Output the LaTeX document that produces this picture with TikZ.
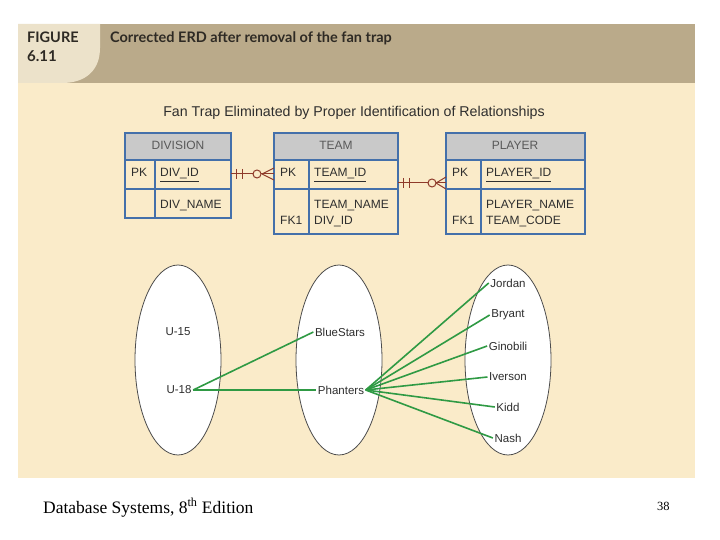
\documentclass[tikz,border=0pt]{standalone}
\usepackage{fontspec}
\setmainfont{Liberation Serif}
\setsansfont{Liberation Sans}
\newfontfamily\figfont{Lato}
\usetikzlibrary{shapes.geometric}

\definecolor{bandtan}{HTML}{BAAA8A}
\definecolor{cornerlight}{HTML}{ECE2CA}
\definecolor{panelcream}{HTML}{FAEBC9}
\definecolor{figink}{HTML}{2E2A24}
\definecolor{tabblue}{HTML}{4470AA}
\definecolor{headgray}{HTML}{C9C9C9}
\definecolor{tabink}{HTML}{2E2E2E}
\definecolor{relred}{HTML}{8E3A2A}
\definecolor{mapgreen}{HTML}{2F9A44}

\tikzset{
  tabline/.style={draw=tabblue, line width=1.4pt},
  relline/.style={draw=relred, line width=1pt},
  setoval/.style={ellipse, draw=black!70, fill=white, line width=0.8pt,
                  minimum width=86, minimum height=190},
  mapline/.style={draw=mapgreen, line width=1.6pt},
}

\begin{document}
\begin{tikzpicture}[x=1pt,y=-1pt]
    \useasboundingbox (0,0) rectangle (720,540);
    \fill[white] (0,0) rectangle (720,540);
    % slide panel and figure band
    \fill[panelcream] (18,83) rectangle (695,478);
    \fill[bandtan] (18,24) rectangle (695,83);
    \fill[cornerlight] (18,24) -- (100,24) -- (100,48)
        .. controls (100,70) and (86,83) .. (62,83) -- (18,83) -- cycle;
    \begin{scope}[every node/.style={anchor=base west, text=figink, inner sep=0pt}]
        \node[font=\figfont\bfseries\fontsize{14.5}{16}\selectfont] (fignum) at (27,43) {FIGURE};
        \node[font=\figfont\bfseries\fontsize{15}{16}\selectfont] (fignum2) at (27,62) {6.11};
        \node[font=\figfont\bfseries\fontsize{14.5}{16}\selectfont] (figtitle) at (110,43) {Corrected ERD after removal of the fan trap};
    \end{scope}
    \node[font=\sffamily\fontsize{14.2}{16}\selectfont, text=tabink] (subtitle) at (354,113) {Fan Trap Eliminated by Proper Identification of Relationships};

    % DIVISION table
    \fill[headgray] (125,133) rectangle (231,160);
    \draw[tabline] (125,160) -- (231,160) (125,189) -- (231,189) (155,160) -- (155,218);
    \draw[tabline] (125,133) rectangle (231,218);
    % TEAM table
    \fill[headgray] (274,133) rectangle (398,160);
    \draw[tabline] (274,160) -- (398,160) (274,189) -- (398,189) (309,160) -- (309,234);
    \draw[tabline] (274,133) rectangle (398,234);
    % PLAYER table
    \fill[headgray] (446,133) rectangle (585,160);
    \draw[tabline] (446,160) -- (585,160) (446,189) -- (585,189) (481,160) -- (481,234);
    \draw[tabline] (446,133) rectangle (585,234);

    \begin{scope}[every node/.style={font=\sffamily\fontsize{12}{14}\selectfont, text=tabink, inner sep=0pt, anchor=base west}]
        \node[anchor=base, text=black!65] (divhead) at (178,150) {DIVISION};
        \node (divpk) at (131,177) {PK};
        \node (divid) at (160,177) {\underline{DIV\_ID}};
        \node (divname) at (160,209) {DIV\_NAME};
        \node[anchor=base, text=black!65] (teamhead) at (336,150) {TEAM};
        \node (teampk) at (280,177) {PK};
        \node (teamid) at (314,177) {\underline{TEAM\_ID}};
        \node (teamname) at (314,209) {TEAM\_NAME};
        \node (teamfk) at (280,225) {FK1};
        \node (teamdiv) at (314,225) {DIV\_ID};
        \node[anchor=base, text=black!65] (playerhead) at (515,150) {PLAYER};
        \node (playerpk) at (452,177) {PK};
        \node (playerid) at (486,177) {\underline{PLAYER\_ID}};
        \node (playername) at (486,209) {PLAYER\_NAME};
        \node (playerfk) at (452,225) {FK1};
        \node (playercode) at (486,225) {TEAM\_CODE};
    \end{scope}

    % relationships DIVISION -H-O< TEAM, TEAM -H-O< PLAYER
    \coordinate (divR) at (231,174);
    \coordinate (teamL) at (274,174);
    \coordinate (teamR) at (398,183);
    \coordinate (playerL) at (446,183);
    \draw[relline] (divR) -- (253,174) (261,174) -- (teamL);
    \draw[relline] (236,169) -- (236,179) (242,169) -- (242,179);
    \draw[relline] (257,174) circle (4);
    \draw[relline] (262,174) -- (274,168) (262,174) -- (274,180);
    \draw[relline] (teamR) -- (428,183) (436,183) -- (playerL);
    \draw[relline] (403,178) -- (403,188) (409,178) -- (409,188);
    \draw[relline] (432,183) circle (4);
    \draw[relline] (436,183) -- (446,177) (436,183) -- (446,189);

    % occurrence sets
    \node[setoval] (divset) at (178,360) {};
    \node[setoval] (teamset) at (339,360) {};
    \node[setoval] (playerset) at (508,360) {};

    \begin{scope}[every node/.style={font=\sffamily\fontsize{11.5}{13}\selectfont, text=tabink, inner sep=1.5pt}]
        \node (u15) at (178,332) {U-15};
        \node (u18) at (179,390) {U-18};
        \node (bluestars) at (340,332) {BlueStars};
        \node (phanters) at (341,390) {Phanters};
        \node (jordan) at (508,283) {Jordan};
        \node (bryant) at (508,315) {Bryant};
        \node (ginobili) at (508,346) {Ginobili};
        \node (iverson) at (508,377) {Iverson};
        \node (kidd) at (508,407) {Kidd};
        \node (nash) at (508,438) {Nash};
    \end{scope}

    \begin{scope}[every path/.style={mapline}]
        \draw (u18.east) -- (bluestars.west);
        \draw (u18.east) -- (phanters.west);
        \draw (phanters.east) -- (jordan.west);
        \draw (phanters.east) -- (bryant.west);
        \draw (phanters.east) -- (ginobili.west);
        \draw (phanters.east) -- (iverson.west);
        \draw (phanters.east) -- (kidd.west);
        \draw (phanters.east) -- (nash.west);
    \end{scope}

    % footer
    \node[anchor=base west, inner sep=0pt, font=\fontsize{17.5}{19}\selectfont] (footer) at (43,513) {Database Systems, 8\textsuperscript{th} Edition};
    \node[anchor=base west, inner sep=0pt, font=\fontsize{12.5}{14}\selectfont] (pagenum) at (657,510) {38};
\end{tikzpicture}
\end{document}
